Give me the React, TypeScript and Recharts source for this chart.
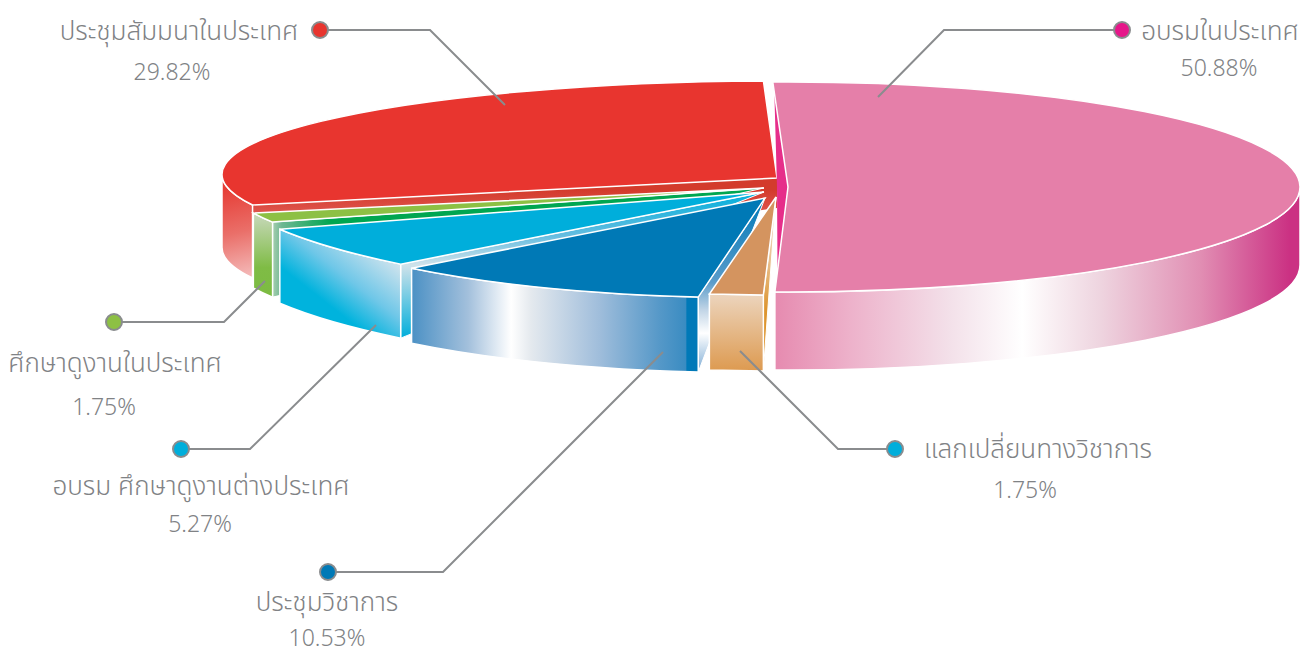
import { PieChart, Pie } from 'recharts';

// back to front, the pie runs counter-clockwise from the top
const categories = ['ประชุมสัมมนาในประเทศ', 'ศึกษาดูงานในประเทศ', 'อบรม ศึกษาดูงานต่างประเทศ', 'ประชุมวิชาการ', 'แลกเปลี่ยนทางวิชาการ', 'อบรมในประเทศ'];
const shares = [29.82, 1.75, 5.27, 10.53, 1.75, 50.88];

const topColors = ['#e8352f', '#8dc044', '#00aedb', '#0079b6', '#d4945f', '#e57fa9'];
const dotColors = ['#e8352f', '#8dc044', '#00aedb', '#0079b6', '#00aedb', '#e6178a'];

// every wedge is pulled apart by hand, so each has its own ellipse
const arcCx = [780, 691, 860, 765, 776, 788];
const arcCy = [174.5, 184, 174, 199, 197, 187];
const arcRx = [558, 463, 642, 494, 493, 512];
const arcRy = [93.5, 89, 129, 99, 98, 105];
const apexX = [777, 764, 764, 765, 776, 788];
const apexY = [178, 188, 192, 198, 197, 187];
const depths = [73, 75, 74, 75, 76, 78];

type Stop = [number, string];
const wallGradients: { from: number[]; stops: Stop[] }[] = [
  { from: [226, 190, 250, 285], stops: [[0, '#e63f38'], [0.45, '#ea6f69'], [1, '#f6c8c8']] },
  { from: [0, 213, 0, 297], stops: [[0, '#c9d9bd'], [0.65, '#7fbc45'], [1, '#7cbb42']] },
  { from: [402, 262, 345, 335], stops: [[0, '#d8e6ee'], [0.5, '#6fc7e8'], [0.85, '#00b3dd'], [1, '#00b3dd']] },
  { from: [411, 0, 697, 0], stops: [[0, '#4a90c4'], [0.2, '#a3c0dc'], [0.35, '#ffffff'], [0.42, '#e4e9ee'], [0.66, '#9fbddb'], [0.87, '#5598c8'], [0.96, '#3a8cc2'], [0.965, '#0079b8'], [1, '#0079b8']] },
  { from: [0, 295, 0, 371], stops: [[0, '#ecd4bc'], [1, '#dd9a50']] },
  { from: [776, 0, 1300, 0], stops: [[0, '#e68bb0'], [0.14, '#edb1ca'], [0.33, '#f3e0e9'], [0.47, '#ffffff'], [0.62, '#eed4df'], [0.81, '#e18eb3'], [0.98, '#cb3183'], [1, '#cb3183']] },
];
const faceGradients: { from: number[]; stops: Stop[] }[] = [
  { from: [0, 190, 0, 278], stops: [[0, '#d33b2c'], [0.2, '#dc4e45'], [1, '#f3bcbb']] },
  { from: [272, 0, 764, 0], stops: [[0, '#a9cfb0'], [0.02, '#6eb792'], [0.12, '#00a651'], [1, '#00a651']] },
  { from: [0, 192, 0, 338], stops: [[0, '#00aedb'], [0.3, '#66bde0'], [0.5, '#cfe2ea'], [1, '#00aedb']] },
  { from: [0, 198, 0, 367], stops: [[0, '#0079b8'], [0.5, '#5a9cca'], [0.66, '#c0d4e6'], [0.8, '#ffffff'], [1, '#8db6da']] },
  { from: [0, 197, 0, 357], stops: [[0, '#f5e9dc'], [0.4, '#e8bf8f'], [0.7, '#dd952f'], [1, '#dd952f']] },
  { from: [0, 0, 0, 1], stops: [[0, '#e62e8a'], [1, '#e62e8a']] },
];

// callouts: dot, elbow, tip, then the two text lines
const leaderPoints = ['320,30 430,30 505,105', '114,322 224,322 265,281', '181,449 250,449 376,325', '328,572 443,572 663,352', '895,449 838,449 740,351', '1122,30 944,30 878,97'];
const nameX = [179, 115, 201, 327, 1038, 1220];
const nameY = [40, 372, 495, 611, 458, 40];
const shareX = [172, 104, 200, 327, 1025, 1219];
const shareY = [80, 415, 532, 646, 498, 76];

const FONT = '"Noto Sans Thai", Roboto, "Noto Sans", sans-serif';
const chartData = categories.map((name, idx) => ({ name, value: shares[idx], idx }));

const rad = (a: number) => (a * Math.PI) / 180;

function Wedge(props: any) {
  const i: number = props.payload?.idx ?? props.idx ?? 0;
  const { startAngle, endAngle } = props;
  const cx = arcCx[i], cy = arcCy[i], rx = arcRx[i], ry = arcRy[i], ax = apexX[i], ay = apexY[i], d = depths[i];
  const px = (a: number) => cx + rx * Math.cos(rad(a));
  const py = (a: number) => cy - ry * Math.sin(rad(a));

  const large = endAngle - startAngle > 180 ? 1 : 0;
  const top = `M${ax},${ay} L${px(startAngle)},${py(startAngle)} A${rx},${ry} 0 ${large} 0 ${px(endAngle)},${py(endAngle)} Z`;

  // the rim only shows on the lower half of the ellipse
  const w0 = Math.max(startAngle, 180);
  const w1 = Math.min(endAngle, 360);
  const wall = w1 > w0
    ? `M${px(w0)},${py(w0)} A${rx},${ry} 0 0 0 ${px(w1)},${py(w1)} L${px(w1)},${py(w1) + d} A${rx},${ry} 0 0 1 ${px(w0)},${py(w0) + d} Z`
    : '';

  const isPink = i === 5;
  const isRed = i === 0;
  const ex = px(endAngle), ey = py(endAngle);
  let face = `M${ax},${ay} L${ex},${ey} L${ex},${ey + d} Z`;
  if (isRed) face = `M${ax},${ay} L${ex},${ey} L${ex},${ey + d} L${ax},${ay + 30} Z`;
  if (isPink) {
    const sx = px(startAngle), sy = py(startAngle);
    face = `M${ex + (ax - ex) * 0.1},${ey + (ay - ey) * 0.1} L${ax},${ay} L${sx + (ax - sx) * 0.2},${sy + (ay - sy) * 0.2} L${ax - 11},${ay} Z`;
  }

  const gradient = (id: string, g: { from: number[]; stops: Stop[] }) => (
    <linearGradient id={id} gradientUnits="userSpaceOnUse" x1={g.from[0]} y1={g.from[1]} x2={g.from[2]} y2={g.from[3]}>
      {g.stops.map(([o, c], k) => <stop key={k} offset={o} stopColor={c} />)}
    </linearGradient>
  );

  return (
    <g>
      <defs>
        {gradient(`wall-${i}`, wallGradients[i])}
        {gradient(`face-${i}`, faceGradients[i])}
      </defs>
      <path d={face} fill={isPink ? '#e62e8a' : `url(#face-${i})`} stroke="#fff" strokeWidth={isPink || isRed ? 0 : 1} strokeLinejoin="round" />
      {wall && <path d={wall} fill={`url(#wall-${i})`} stroke="#fff" strokeWidth={1.5} />}
      <path d={top} fill={topColors[i]} stroke="#fff" strokeWidth={1.5} strokeLinejoin="miter" />
    </g>
  );
}

function Callout(props: any) {
  const i: number = props.payload?.idx ?? props.index ?? 0;
  const [dx, dy] = leaderPoints[i].split(' ')[0].split(',').map(Number);
  return (
    <g>
      <polyline points={leaderPoints[i]} fill="none" stroke="#8a8c8e" strokeWidth={2} />
      <circle cx={dx} cy={dy} r={8} fill={dotColors[i]} stroke="#8a8c8e" strokeWidth={2} />
      <text x={nameX[i]} y={nameY[i]} textAnchor="middle" fontFamily={FONT} fontSize={26} fontWeight={300} fill="#808285">{categories[i]}</text>
      <text x={shareX[i]} y={shareY[i]} textAnchor="middle" fontFamily={FONT} fontSize={23} fontWeight={300} fill="#808285">{shares[i].toFixed(2)}%</text>
    </g>
  );
}

export default function App() {
  return (
    <div style={{ position: 'absolute', left: 0, top: 0, width: 1302, height: 655, overflow: 'hidden', background: '#fff' }}>
      <PieChart width={1302} height={655} margin={{ top: 0, right: 0, bottom: 0, left: 0 }}>
        <Pie
          data={chartData}
          dataKey="value"
          nameKey="name"
          cx={788}
          cy={187}
          outerRadius={500}
          startAngle={91.7}
          endAngle={451.7}
          stroke="none"
          shape={Wedge}
          label={Callout}
          labelLine={false}
          isAnimationActive={false}
        />
      </PieChart>
    </div>
  );
}
